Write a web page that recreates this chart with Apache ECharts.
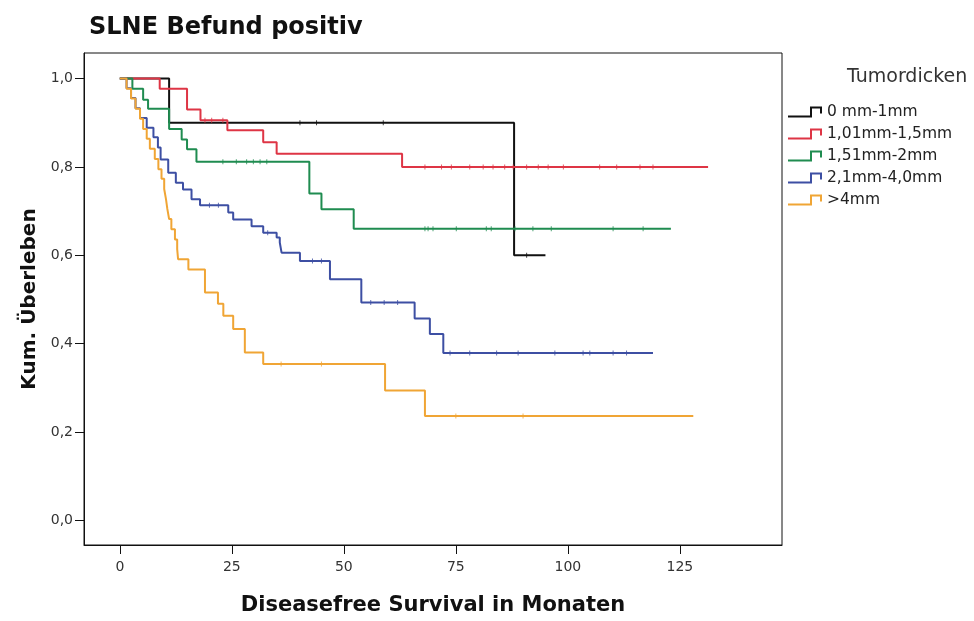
<!DOCTYPE html>
<html>
<head>
<meta charset="utf-8">
<script src="https://cdn.jsdelivr.net/npm/echarts@6/dist/echarts.min.js"></script>
<style>
  html, body { margin: 0; padding: 0; background: #fff; }
  #chart { width: 974px; height: 621px; }
</style>
</head>
<body>
<div id="chart"></div>
<script>
// Kaplan-Meier curves: event times (months) and cumulative survival after each step.
// The last entry of each list is the end of follow-up (no further drop).
const groupNames = ['0 mm-1mm', '1,01mm-1,5mm', '1,51mm-2mm', '2,1mm-4,0mm', '>4mm'];
const groupColors = ['#111111', '#de3545', '#1f8c50', '#3d4fa3', '#f0a535'];

const timesG1 = [0, 11, 88, 95];
const survG1  = [1.0, 0.9, 0.6, 0.6];

const timesG2 = [0, 8.9, 15, 18, 24, 32, 35, 63, 131.3];
const survG2  = [1.0, 0.977, 0.93, 0.906, 0.883, 0.856, 0.83, 0.80, 0.80];

const timesG3 = [0, 2.8, 5.2, 6.3, 11, 13.8, 15, 17.1, 42.3, 45, 52.2, 123];
const survG3  = [1.0, 0.977, 0.952, 0.932, 0.886, 0.862, 0.84, 0.812, 0.74, 0.704, 0.66, 0.66];

const timesG4 = [0, 1.5, 2.5, 3.5, 4.5, 6, 7.5, 8.5, 9.1, 10.8, 12.5, 14.1, 16, 17.9, 24.2, 25.3, 29.4, 32, 35, 35.7, 36.1, 40.2, 46.9, 53.9, 65.8, 69.2, 72.2, 119];
const survG4  = [1.0, 0.978, 0.956, 0.933, 0.911, 0.889, 0.867, 0.844, 0.817, 0.787, 0.764, 0.749, 0.727, 0.713, 0.697, 0.681, 0.666, 0.651, 0.64, 0.629, 0.606, 0.587, 0.546, 0.493, 0.457, 0.422, 0.379, 0.379];

const timesG5 = [0, 1.5, 2.5, 3.5, 4.5, 5.2, 6, 6.7, 7.8, 8.6, 9.3, 9.9, 10.3, 10.6, 11, 11.5, 12.3, 12.8, 13, 15.3, 19, 21.9, 23.1, 25.3, 27.9, 32, 59.2, 68.1, 128];
const survG5  = [1.0, 0.977, 0.955, 0.932, 0.909, 0.886, 0.864, 0.841, 0.818, 0.795, 0.773, 0.75, 0.727, 0.705, 0.682, 0.659, 0.636, 0.614, 0.591, 0.568, 0.516, 0.49, 0.463, 0.433, 0.38, 0.354, 0.294, 0.236, 0.236];

// Censored observations (months)
const censorG1 = [40.2, 43.9, 58.8, 90.8];
const censorG2 = [19, 20.5, 23, 68.1, 71.8, 74, 78.1, 81.1, 83.3, 85.9, 87.8, 90.8, 93.4, 95.6, 99, 107.1, 110.9, 116.1, 119];
const censorG3 = [23, 26, 28.3, 29.8, 31.3, 32.8, 68.1, 68.8, 69.9, 75.1, 81.8, 82.9, 88.2, 92.2, 96.3, 110.1, 116.8];
const censorG4 = [20, 22, 33, 43, 45, 56, 59, 62, 73.7, 78.1, 84.1, 88.9, 97.1, 103.4, 104.9, 110.1, 113.1];
const censorG5 = [36, 45, 75, 90];

const xTicks = [0, 25, 50, 75, 100, 125];
const yTicks = [0, 0.2, 0.4, 0.6, 0.8, 1.0];

const groups = [
  [timesG1, survG1, censorG1],
  [timesG2, survG2, censorG2],
  [timesG3, survG3, censorG3],
  [timesG4, survG4, censorG4],
  [timesG5, survG5, censorG5]
];

// survival value in effect at time t (right-continuous step function)
function survAt(times, surv, t) {
  let v = surv[0];
  for (let i = 0; i < times.length; i++) {
    if (times[i] <= t) v = surv[i];
  }
  return v;
}

const FONT = 'DejaVu Sans, Verdana, sans-serif';
const legendIcon = 'path://M0,9 L22,9 L22,0 L34,0 L34,7 L32,7 L32,2 L24,2 L24,11 L0,11 Z';

const series = [];
groups.forEach((g, i) => {
  const [times, surv, cens] = g;
  series.push({
    name: groupNames[i],
    type: 'line',
    step: 'end',
    symbol: 'none',
    data: times.map((t, k) => [t, surv[k]]),
    lineStyle: { color: groupColors[i], width: 2 },
    itemStyle: { color: groupColors[i] },
    z: 2 + i
  });
  series.push({
    type: 'scatter',
    symbol: 'rect',
    symbolSize: [1, 5],
    silent: true,
    data: cens.map(t => [t, survAt(times, surv, t)]),
    itemStyle: { color: groupColors[i], opacity: 0.8 },
    z: 10
  });
});

const fmt = v => v.toFixed(1).replace('.', ',');

const chart = echarts.init(document.getElementById('chart'));
chart.setOption({
  animation: false,
  backgroundColor: '#ffffff',
  textStyle: { fontFamily: FONT },
  title: [
    {
      text: 'SLNE Befund positiv',
      left: 84, top: 11,
      textStyle: { fontSize: 24, fontWeight: 'bold', color: '#111', fontFamily: FONT }
    },
    {
      text: 'Tumordicken',
      left: 842, top: 63,
      textStyle: { fontSize: 19, fontWeight: 'normal', color: '#333', fontFamily: FONT }
    }
  ],
  legend: {
    data: groupNames.map(n => ({ name: n, icon: legendIcon })),
    orient: 'vertical',
    left: 788, top: 104, padding: 0,
    itemWidth: 34, itemHeight: 12, itemGap: 6,
    textStyle: { fontSize: 15.5, color: '#222', lineHeight: 16, padding: [0, 0, 0, 0], fontFamily: FONT },
    selectedMode: false
  },
  grid: {
    left: 84, top: 53, right: 192, bottom: 75,
    show: true, borderColor: '#111', borderWidth: 1, backgroundColor: 'transparent'
  },
  xAxis: {
    type: 'value',
    min: -8, max: 147.8,
    name: 'Diseasefree Survival in Monaten',
    nameLocation: 'middle', nameGap: 50,
    nameTextStyle: { fontSize: 21, fontWeight: 'bold', color: '#111', fontFamily: FONT },
    axisLine: { show: true, onZero: false, lineStyle: { color: '#111', width: 1 } },
    axisTick: { show: true, length: 9, inside: false, customValues: xTicks, lineStyle: { color: '#111', width: 1 } },
    axisLabel: { customValues: xTicks, fontSize: 14, color: '#333', margin: 15, formatter: v => String(v) },
    splitLine: { show: false }
  },
  yAxis: {
    type: 'value',
    min: -0.056, max: 1.058,
    name: 'Kum. Überleben',
    nameLocation: 'middle', nameGap: 43, nameRotate: 90,
    nameTextStyle: { fontSize: 20, fontWeight: 'bold', color: '#111', fontFamily: FONT },
    axisLine: { show: true, onZero: false, lineStyle: { color: '#111', width: 1 } },
    axisTick: { show: true, length: 9, inside: false, customValues: yTicks, lineStyle: { color: '#111', width: 1 } },
    axisLabel: { customValues: yTicks, fontSize: 14, color: '#333', margin: 11, formatter: v => fmt(v) },
    splitLine: { show: false }
  },
  series: series
});
</script>
</body>
</html>
